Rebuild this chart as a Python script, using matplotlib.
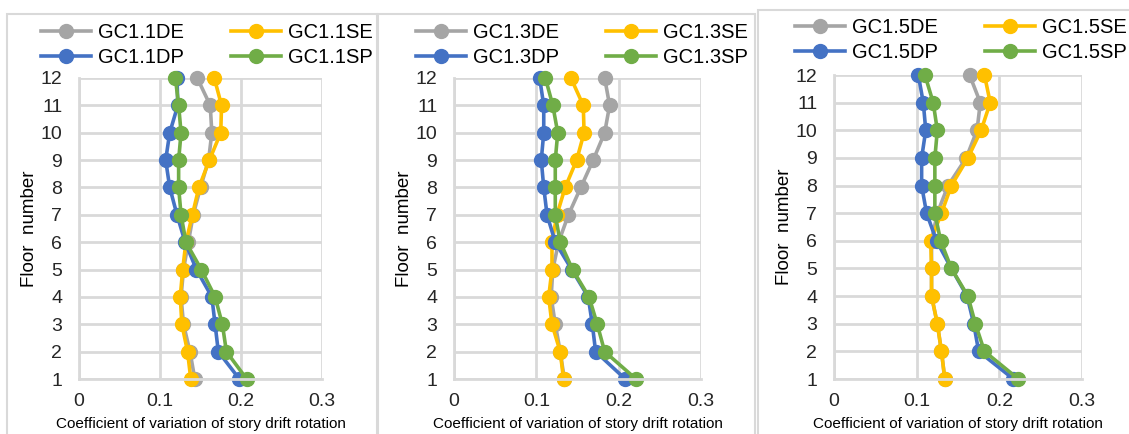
import matplotlib.pyplot as plt
from matplotlib.patches import Rectangle

plt.rcParams['font.family'] = ['Liberation Sans', 'DejaVu Sans']

floors = [1, 2, 3, 4, 5, 6, 7, 8, 9, 10, 11, 12]

# GC1.1
gc11_de = [0.143, 0.137, 0.129, 0.126, 0.129, 0.135, 0.141, 0.150, 0.160, 0.164, 0.162, 0.146]
gc11_se = [0.138, 0.134, 0.127, 0.125, 0.128, 0.132, 0.140, 0.148, 0.161, 0.175, 0.176, 0.167]
gc11_dp = [0.198, 0.172, 0.168, 0.164, 0.145, 0.131, 0.121, 0.112, 0.107, 0.112, 0.122, 0.121]
gc11_sp = [0.207, 0.182, 0.177, 0.168, 0.151, 0.132, 0.126, 0.123, 0.123, 0.126, 0.123, 0.119]

# GC1.3
gc13_de = [0.134, 0.129, 0.123, 0.118, 0.120, 0.127, 0.139, 0.154, 0.169, 0.183, 0.189, 0.183]
gc13_se = [0.133, 0.129, 0.119, 0.115, 0.119, 0.119, 0.125, 0.135, 0.149, 0.158, 0.157, 0.142]
gc13_dp = [0.208, 0.172, 0.168, 0.163, 0.143, 0.123, 0.113, 0.109, 0.106, 0.109, 0.109, 0.104]
gc13_sp = [0.221, 0.183, 0.174, 0.164, 0.144, 0.129, 0.123, 0.123, 0.123, 0.126, 0.120, 0.111]

# GC1.5
gc15_de = [0.134, 0.130, 0.125, 0.118, 0.118, 0.118, 0.125, 0.138, 0.160, 0.173, 0.177, 0.164]
gc15_se = [0.134, 0.130, 0.125, 0.118, 0.118, 0.117, 0.130, 0.142, 0.162, 0.178, 0.189, 0.182]
gc15_dp = [0.217, 0.175, 0.169, 0.161, 0.142, 0.124, 0.112, 0.106, 0.106, 0.111, 0.108, 0.102]
gc15_sp = [0.223, 0.182, 0.171, 0.162, 0.142, 0.129, 0.122, 0.122, 0.122, 0.125, 0.120, 0.110]

panels = [
    ('GC1.1', gc11_de, gc11_se, gc11_dp, gc11_sp),
    ('GC1.3', gc13_de, gc13_se, gc13_dp, gc13_sp),
    ('GC1.5', gc15_de, gc15_se, gc15_dp, gc15_sp),
]

colors = {'DE': '#A5A5A5', 'SE': '#FFC000', 'DP': '#4472C4', 'SP': '#70AD47'}
grid_c = '#D9D9D9'

W, H = 1129, 434
fig = plt.figure(figsize=(W / 100, H / 100), dpi=100)

# panel frames (pixels: x0, y_top, x1)
frames = [(7, 14, 377), (378, 14, 755), (758, 10, 1135)]
for x0, yt, x1 in frames:
    fig.patches.append(Rectangle((x0 / W, -0.05), (x1 - x0) / W, 1.05 - yt / H,
                                 transform=fig.transFigure, fill=False,
                                 edgecolor=grid_c, linewidth=1.5))

# axes boxes (pixels: left, top, right, bottom)
boxes = [(79, 78, 322, 379), (454, 78, 701, 379), (834, 75, 1082, 379)]
legend_x = [37, 412, 791]
legend_top = [19, 19, 14]

for (name, de, se, dp, sp), (l, t, r, b), lx, ly in zip(panels, boxes, legend_x, legend_top):
    ax = fig.add_axes([l / W, 1 - b / H, (r - l) / W, (b - t) / H])
    series = [('DE', de), ('SE', se), ('DP', dp), ('SP', sp)]
    handles = {}
    for key, vals in series:
        h, = ax.plot(vals, floors, color=colors[key], lw=2.6, marker='o',
                     markersize=10, label=name + key, clip_on=False)
        handles[key] = h
    ax.set_xlim(0, 0.3)
    ax.set_ylim(1, 12)
    ax.set_xticks([0, 0.1, 0.2, 0.3])
    ax.set_xticklabels(['0', '0.1', '0.2', '0.3'])
    ax.set_yticks(floors)
    ax.grid(True, color=grid_c, lw=2)
    ax.set_axisbelow(True)
    for s in ['top', 'right']:
        ax.spines[s].set_visible(False)
    for s in ['left', 'bottom']:
        ax.spines[s].set_color(grid_c)
        ax.spines[s].set_linewidth(2)
    ax.tick_params(length=0, labelsize=14, pad=10, colors='#262626')
    ax.tick_params(axis='y', pad=12)
    ax.set_xlabel('Coefficient of variation of story drift rotation', fontsize=11, labelpad=5)
    ax.set_ylabel('Floor  number', fontsize=13.5, labelpad=2)
    order = ['DE', 'DP', 'SE', 'SP']
    fig.legend([handles[k] for k in order], [name + k for k in order],
               loc='upper left', bbox_to_anchor=(lx / W, 1 - ly / H),
               ncol=2, frameon=False, fontsize=14.5, handlelength=2.5,
               handletextpad=0.35, columnspacing=2.3, labelspacing=0.3,
               borderaxespad=0, borderpad=0.2)

fig.savefig('out.png', dpi=100)
